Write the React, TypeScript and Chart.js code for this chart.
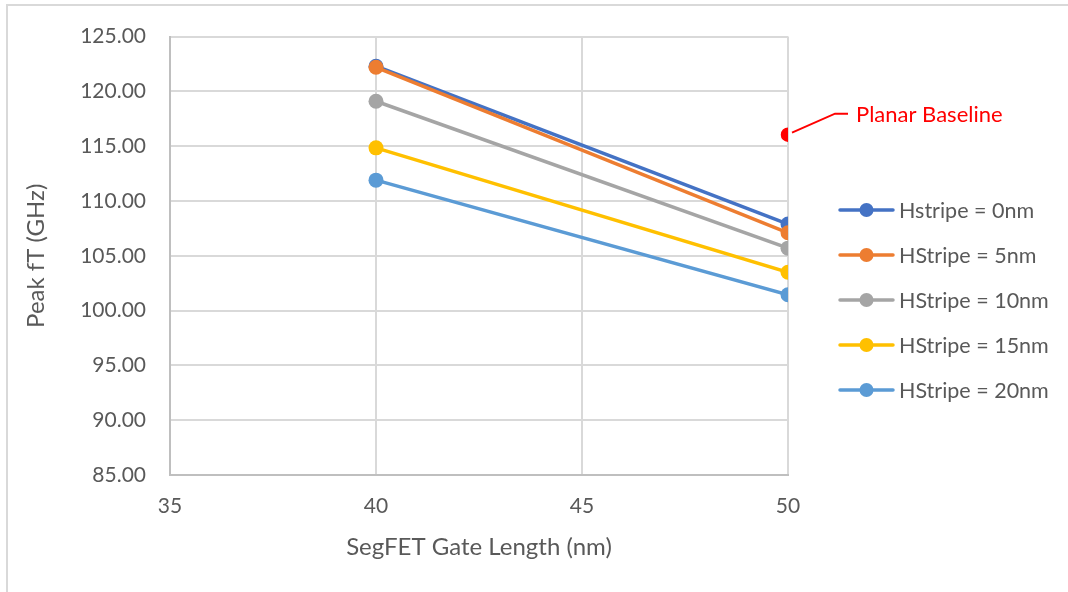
import React, { useEffect, useRef } from "react";
import { Chart, registerables } from "chart.js";

Chart.register(...registerables);

const gateLengths = [40, 50];
const seriesNames = [
  "Hstripe = 0nm",
  "HStripe = 5nm",
  "HStripe = 10nm",
  "HStripe = 15nm",
  "HStripe = 20nm",
];
const hs0 = [122.3, 107.9];
const hs5 = [122.2, 107.1];
const hs10 = [119.1, 105.7];
const hs15 = [114.85, 103.5];
const hs20 = [111.9, 101.45];
const seriesValues = [hs0, hs5, hs10, hs15, hs20];
const seriesColors = ["#4472C4", "#ED7D31", "#A5A5A5", "#FFC000", "#5B9BD5"];

const baselineX = [50];
const baselineY = [116.05];
const baselineLabel = "Planar Baseline";

const xTicks = [35, 40, 45, 50];
const yMin = 85;
const yMax = 125;
const yStep = 5;

const FONT = "Lato, 'Open Sans', sans-serif";
const TEXT = "#595959";

export default function App() {
  const ref = useRef<HTMLCanvasElement | null>(null);

  useEffect(() => {
    document.body.style.margin = "0";
    const canvas = ref.current;
    if (!canvas) return;

    const framePlugin = {
      id: "frame",
      beforeDraw(chart: any) {
        const ctx = chart.ctx;
        ctx.save();
        ctx.strokeStyle = "#d9d9d9";
        ctx.lineWidth = 2;
        ctx.beginPath();
        ctx.moveTo(7, chart.height);
        ctx.lineTo(7, 5);
        ctx.lineTo(chart.width, 5);
        ctx.stroke();
        ctx.restore();
      },
    };

    const overlayPlugin = {
      id: "overlay",
      afterDraw(chart: any) {
        const ctx = chart.ctx;
        const xs = chart.scales.x;
        const ys = chart.scales.y;
        ctx.save();
        const px = xs.getPixelForValue(baselineX[0]);
        const py = ys.getPixelForValue(baselineY[0]);
        ctx.strokeStyle = "#FF0000";
        ctx.lineWidth = 2;
        ctx.beginPath();
        ctx.moveTo(px + 4, py - 2);
        ctx.lineTo(px + 47, py - 21);
        ctx.lineTo(px + 60, py - 21);
        ctx.stroke();
        ctx.fillStyle = "#FF0000";
        ctx.font = `22px ${FONT}`;
        ctx.textBaseline = "middle";
        ctx.textAlign = "left";
        ctx.fillText(baselineLabel, px + 68, py - 20);

        const lx0 = 840;
        const lx1 = 893;
        const ly0 = 210;
        const gap = 45;
        seriesNames.forEach((name, i) => {
          const y = ly0 + i * gap;
          ctx.strokeStyle = seriesColors[i];
          ctx.lineWidth = 3.5;
          ctx.lineCap = "round";
          ctx.beginPath();
          ctx.moveTo(lx0, y);
          ctx.lineTo(lx1, y);
          ctx.stroke();
          ctx.fillStyle = seriesColors[i];
          ctx.beginPath();
          ctx.arc((lx0 + lx1) / 2, y, 7, 0, Math.PI * 2);
          ctx.fill();
          ctx.fillStyle = TEXT;
          ctx.font = `21.5px ${FONT}`;
          ctx.textBaseline = "middle";
          ctx.fillText(name, 899, y + 1);
        });
        ctx.restore();
      },
    };

    const datasets: any[] = seriesNames.map((name, i) => ({
      label: name,
      data: gateLengths.map((g, j) => ({ x: g, y: seriesValues[i][j] })),
      borderColor: seriesColors[i],
      backgroundColor: seriesColors[i],
      borderWidth: 3.5,
      pointRadius: 7.5,
      pointBorderWidth: 0,
      pointBackgroundColor: seriesColors[i],
      showLine: true,
      order: 10 - i,
    }));
    datasets.push({
      label: baselineLabel,
      data: baselineX.map((x, j) => ({ x, y: baselineY[j] })),
      borderColor: "#FF0000",
      backgroundColor: "#FF0000",
      pointRadius: 6.5,
      pointBorderWidth: 1.5,
      pointBorderColor: "#FF0000",
      pointStyle: "circle",
      showLine: false,
      order: 0,
    });

    const chart = new Chart(canvas, {
      type: "scatter",
      data: { datasets },
      options: {
        animation: false,
        responsive: false,
        layout: { padding: { left: 0, right: 280, top: 33, bottom: 0 } },
        plugins: {
          legend: { display: false },
          tooltip: { enabled: false },
        },
        scales: {
          x: {
            type: "linear",
            min: xTicks[0],
            max: xTicks[xTicks.length - 1],
            afterBuildTicks: (s: any) => {
              s.ticks = xTicks.map((v) => ({ value: v }));
            },
            afterFit: (s: any) => {
              s.height = 117;
            },
            grid: { color: "#d9d9d9", lineWidth: 2, drawTicks: false },
            border: { color: "#bfbfbf", width: 2 },
            ticks: {
              color: TEXT,
              font: { family: FONT, size: 21 },
              padding: 19,
            },
            title: {
              display: true,
              text: "SegFET Gate Length (nm)",
              color: TEXT,
              font: { family: FONT, size: 24 },
              padding: { top: 12, bottom: 30 },
            },
          },
          y: {
            type: "linear",
            min: yMin,
            max: yMax,
            ticks: {
              stepSize: yStep,
              color: TEXT,
              font: { family: FONT, size: 21 },
              padding: 24,
              callback: (v: any) => Number(v).toFixed(2),
            },
            afterFit: (s: any) => {
              s.width = 170;
            },
            grid: { color: "#d9d9d9", lineWidth: 2, drawTicks: false },
            border: { color: "#bfbfbf", width: 2 },
            title: {
              display: true,
              text: "Peak fT (GHz)",
              color: TEXT,
              font: { family: FONT, size: 24 },
              padding: { top: 22, bottom: 0 },
            },
          },
        },
      },
      plugins: [framePlugin, overlayPlugin],
    });
    return () => chart.destroy();
  }, []);

  return (
    <div style={{ position: "absolute", left: 0, top: 0, width: 1068, height: 592, background: "#fff" }}>
      <canvas ref={ref} width={1068} height={592} style={{ width: 1068, height: 592 }} />
    </div>
  );
}
